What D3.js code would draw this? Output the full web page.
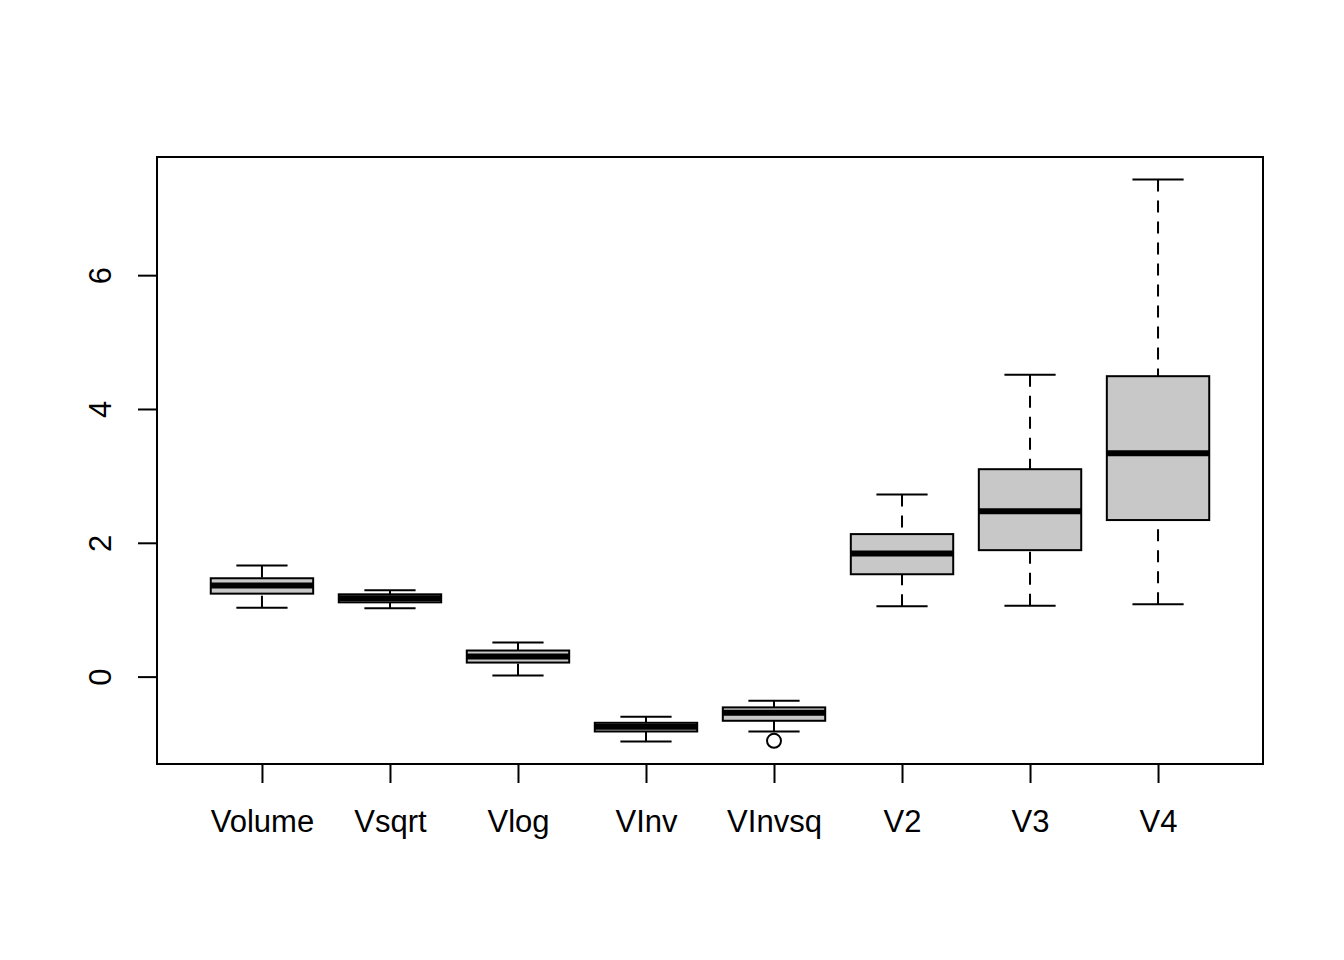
<!DOCTYPE html>
<html>
<head>
<meta charset="utf-8">
<script src="https://cdn.jsdelivr.net/npm/d3@7"></script>
<style>
  body { margin: 0; background: #fff; }
  text { font-family: "Liberation Sans", Arial, sans-serif; fill: #000; }
</style>
</head>
<body>
<svg id="chart" width="1344" height="960"></svg>
<script>
// values
const categories = ["Volume", "Vsqrt", "Vlog", "VInv", "VInvsq", "V2", "V3", "V4"]
const whiskerLow  = [1.03, 1.02, 0.015, -0.97, -0.82, 1.05, 1.06, 1.08]
const q1          = [1.24, 1.11, 0.21, -0.82, -0.66, 1.53, 1.89, 2.34]
const median      = [1.36, 1.17, 0.30, -0.75, -0.54, 1.84, 2.47, 3.34]
const q3          = [1.47, 1.23, 0.39, -0.69, -0.46, 2.13, 3.10, 4.49]
const whiskerHigh = [1.66, 1.29, 0.51, -0.60, -0.36, 2.72, 4.51, 7.43]
const outliers    = [[], [], [], [], [-0.96], [], [], []]
const yTicks = [0, 2, 4, 6]

const svg = d3.select("#chart")
const plotLeft = 157, plotRight = 1263, plotTop = 157, plotBottom = 764

const boxes = categories.map((name, i) => ({
    name, i,
    lo: whiskerLow[i], q1: q1[i], med: median[i], q3: q3[i], hi: whiskerHigh[i],
    out: outliers[i]
}))

// R style: 4% padding on each side
const n = categories.length
const x = d3.scaleLinear()
    .domain([0.5 - n * 0.04, n + 0.5 + n * 0.04])
    .range([plotLeft, plotRight])

const allVals = whiskerLow.concat(whiskerHigh, outliers.flat())
const yMin = d3.min(allVals), yMax = d3.max(allVals)
const yPad = (yMax - yMin) * 0.04
const y = d3.scaleLinear()
    .domain([yMin - yPad, yMax + yPad])
    .range([plotBottom, plotTop])

const boxW = x(1.4) - x(1)
const capW = x(1.2) - x(1)

const box = svg.append("g")
    .selectAll("g.box")
    .data(boxes)
    .enter().append("g")
    .attr("class", "box")

// dashed whiskers
box.append("line")
    .attr("x1", d => x(d.i + 1)).attr("x2", d => x(d.i + 1))
    .attr("y1", d => y(d.hi)).attr("y2", d => y(d.q3))
    .attr("stroke", "#000").attr("stroke-width", 2)
    .attr("stroke-dasharray", "12,9")
box.append("line")
    .attr("x1", d => x(d.i + 1)).attr("x2", d => x(d.i + 1))
    .attr("y1", d => y(d.lo)).attr("y2", d => y(d.q1))
    .attr("stroke", "#000").attr("stroke-width", 2)
    .attr("stroke-dasharray", "12,9")

// caps
box.append("line")
    .attr("x1", d => x(d.i + 1) - capW).attr("x2", d => x(d.i + 1) + capW)
    .attr("y1", d => y(d.hi)).attr("y2", d => y(d.hi))
    .attr("stroke", "#000").attr("stroke-width", 2)
box.append("line")
    .attr("x1", d => x(d.i + 1) - capW).attr("x2", d => x(d.i + 1) + capW)
    .attr("y1", d => y(d.lo)).attr("y2", d => y(d.lo))
    .attr("stroke", "#000").attr("stroke-width", 2)

// box
box.append("rect")
    .attr("x", d => x(d.i + 1) - boxW)
    .attr("width", boxW * 2)
    .attr("y", d => y(d.q3))
    .attr("height", d => y(d.q1) - y(d.q3))
    .attr("fill", "#c8c8c8")
    .attr("stroke", "#000").attr("stroke-width", 2)

// median
box.append("line")
    .attr("x1", d => x(d.i + 1) - boxW).attr("x2", d => x(d.i + 1) + boxW)
    .attr("y1", d => y(d.med)).attr("y2", d => y(d.med))
    .attr("stroke", "#000").attr("stroke-width", 6)

// outliers
box.selectAll("circle")
    .data(d => d.out.map(v => ({i: d.i, v})))
    .enter().append("circle")
    .attr("cx", d => x(d.i + 1))
    .attr("cy", d => y(d.v))
    .attr("r", 7)
    .attr("fill", "none")
    .attr("stroke", "#000").attr("stroke-width", 2)

// frame
svg.append("rect")
    .attr("x", plotLeft).attr("y", plotTop)
    .attr("width", plotRight - plotLeft).attr("height", plotBottom - plotTop)
    .attr("fill", "none").attr("stroke", "#000").attr("stroke-width", 2)

// x axis
const xAxis = svg.append("g")
    .attr("transform", `translate(0,${plotBottom})`)
    .call(d3.axisBottom(x)
        .tickValues(d3.range(1, n + 1))
        .tickFormat(d => categories[d - 1])
        .tickSize(19)
        .tickPadding(27))
xAxis.select(".domain").remove()
xAxis.selectAll("line").attr("stroke-width", 2)
xAxis.selectAll("text")
    .style("font-family", '"Liberation Sans", Arial, sans-serif')
    .style("font-size", "31px")

// y axis
const yAxis = svg.append("g")
    .attr("transform", `translate(${plotLeft},0)`)
    .call(d3.axisLeft(y)
        .tickValues(yTicks)
        .tickSize(19)
        .tickFormat(d3.format("d")))
yAxis.select(".domain").remove()
yAxis.selectAll("line").attr("stroke-width", 2)
yAxis.selectAll("text")
    .attr("x", null)
    .attr("text-anchor", "middle")
    .attr("transform", "translate(-57,0) rotate(-90)")
    .attr("dy", "0.35em")
    .style("font-family", '"Liberation Sans", Arial, sans-serif')
    .style("font-size", "31px")
</script>
</body>
</html>
